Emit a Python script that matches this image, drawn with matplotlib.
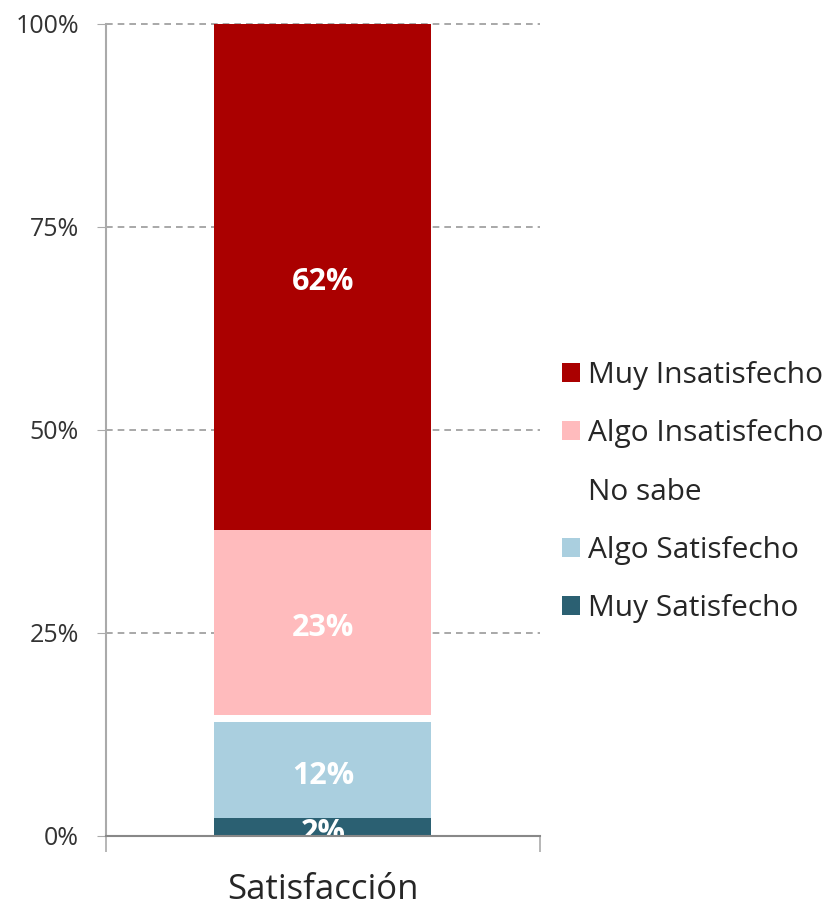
import numpy as np
import matplotlib.pyplot as plt
from matplotlib.patches import Patch

plt.rcParams['font.family'] = ['Open Sans', 'DejaVu Sans']

category = "Satisfacción"
series = ["Muy Satisfecho", "Algo Satisfecho", "No sabe",
          "Algo Insatisfecho", "Muy Insatisfecho"]
values = [2.2, 11.8, 0.9, 22.8, 62.3]
labels = ["2%", "12%", "", "23%", "62%"]
colors = ["#2B6072", "#AACFDF", "#FFFFFF", "#FFBBBD", "#AA0000"]

fig = plt.figure(figsize=(8.34, 9.08), dpi=100)
ax = fig.add_axes([0.127, 0.0793, 0.5205, 0.8943])

bottom = 0
for name, val, lab, col in zip(series, values, labels, colors):
    ax.bar(0, val, width=0.5, bottom=bottom, color=col, zorder=3)
    if lab:
        ax.annotate(lab, (0, bottom + val / 2), xytext=(0, -4),
                    textcoords="offset points", ha="center", va="center",
                    color="white", fontsize=22, fontweight="bold",
                    zorder=4, annotation_clip=False).set_clip_on(True)
    bottom += val

ax.set_xlim(-0.5, 0.5)
ax.set_ylim(0, 100)

ax.set_yticks([0, 25, 50, 75, 100])
ax.set_yticklabels(["0%", "25%", "50%", "75%", "100%"])
ax.tick_params(axis="y", length=6.5, color="#AAAAAA", labelsize=18,
               labelcolor="#333333", pad=13)
ax.yaxis.grid(True, linestyle=(0, (4, 3)), color="#999999", linewidth=1.2,
              zorder=1)
for t in ax.yaxis.get_major_ticks()[1:]:
    t.gridline.set_clip_on(False)

ax.set_xticks([0])
ax.set_xticklabels([category])
ax.set_xticks([-0.5, 0.5], minor=True)
ax.tick_params(axis="x", which="major", length=0, labelsize=25,
               labelcolor="#262626", pad=27)
ax.tick_params(axis="x", which="minor", length=11.5, color="#AAAAAA",
               width=1.2)

for s in ["top", "right"]:
    ax.spines[s].set_visible(False)
ax.spines["left"].set_color("#AAAAAA")
ax.spines["left"].set_linewidth(1.5)
ax.spines["bottom"].set_color("#888888")
ax.spines["bottom"].set_linewidth(1.5)
ax.spines["bottom"].set_zorder(5)

handles = [Patch(facecolor=c, edgecolor="none", label=n)
           for n, c in zip(series, colors)][::-1]
leg = fig.legend(handles=handles, loc="center left",
                 bbox_to_anchor=(0.642, 0.458), frameon=False,
                 fontsize=21.5, handlelength=0.6, handleheight=0.6,
                 handletextpad=0.25, labelspacing=0.98, labelcolor="#262626")

fig.savefig("out.png", dpi=100)
